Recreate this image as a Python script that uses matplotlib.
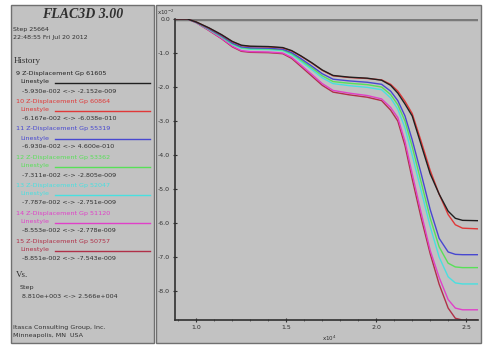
import matplotlib.pyplot as plt
from matplotlib.patches import Rectangle
from matplotlib.ticker import MultipleLocator

# step (x10^4) and z-displacement (x10^-2)
steps = [0.881, 0.95, 1.00, 1.07, 1.14, 1.20, 1.25, 1.30, 1.40, 1.48, 1.53, 1.58, 1.64, 1.70, 1.76,
         1.85, 1.95, 2.03, 2.08, 2.12, 2.16, 2.20, 2.25, 2.30, 2.35, 2.40, 2.44, 2.48, 2.566]

disp_9 = [0, 0, -0.09, -0.26, -0.46, -0.66, -0.77, -0.80, -0.81, -0.84, -0.93, -1.08, -1.28, -1.50, -1.66,
          -1.71, -1.74, -1.80, -1.95, -2.18, -2.50, -2.85, -3.70, -4.55, -5.15, -5.65, -5.86, -5.92, -5.93]
disp_10 = [0, 0, -0.09, -0.27, -0.47, -0.67, -0.78, -0.81, -0.82, -0.85, -0.94, -1.09, -1.29, -1.51, -1.67,
           -1.72, -1.75, -1.79, -1.92, -2.12, -2.42, -2.78, -3.60, -4.45, -5.15, -5.75, -6.05, -6.15, -6.17]
disp_11 = [0, 0, -0.10, -0.29, -0.50, -0.71, -0.82, -0.85, -0.86, -0.89, -0.99, -1.16, -1.38, -1.61, -1.77,
           -1.82, -1.86, -1.92, -2.12, -2.40, -2.85, -3.55, -4.55, -5.60, -6.45, -6.85, -6.92, -6.93, -6.93]
disp_12 = [0, 0, -0.10, -0.30, -0.52, -0.73, -0.84, -0.87, -0.88, -0.91, -1.02, -1.20, -1.43, -1.67, -1.84,
           -1.89, -1.93, -2.00, -2.22, -2.52, -3.00, -3.75, -4.80, -5.85, -6.70, -7.18, -7.29, -7.31, -7.31]
disp_13 = [0, 0, -0.10, -0.31, -0.53, -0.75, -0.86, -0.89, -0.90, -0.93, -1.05, -1.24, -1.48, -1.73, -1.90,
           -1.96, -2.01, -2.08, -2.32, -2.65, -3.20, -4.00, -5.05, -6.10, -7.00, -7.58, -7.76, -7.79, -7.79]
disp_14 = [0, 0, -0.11, -0.33, -0.57, -0.80, -0.93, -0.96, -0.97, -1.00, -1.13, -1.35, -1.62, -1.90, -2.10,
           -2.18, -2.25, -2.35, -2.60, -2.90, -3.60, -4.55, -5.70, -6.80, -7.60, -8.25, -8.50, -8.55, -8.55]
disp_15 = [0, 0, -0.11, -0.34, -0.58, -0.82, -0.95, -0.98, -0.99, -1.02, -1.16, -1.39, -1.67, -1.95, -2.15,
           -2.23, -2.30, -2.40, -2.68, -3.00, -3.72, -4.70, -5.85, -6.90, -7.80, -8.50, -8.80, -8.85, -8.85]

series = [disp_9, disp_10, disp_11, disp_12, disp_13, disp_14, disp_15]
names = ['9 Z-Displacement Gp 61605', '10 Z-Displacement Gp 60864', '11 Z-Displacement Gp 55319',
         '12 Z-Displacement Gp 53362', '13 Z-Displacement Gp 52047', '14 Z-Displacement Gp 51120',
         '15 Z-Displacement Gp 50757']
ranges = ['-5.930e-002 <-> -2.152e-009', '-6.167e-002 <-> -6.038e-010', '-6.930e-002 <-> 4.600e-010',
          '-7.311e-002 <-> -2.805e-009', '-7.787e-002 <-> -2.751e-009', '-8.553e-002 <-> -2.778e-009',
          '-8.851e-002 <-> -7.543e-009']
colors = ['#202020', '#e03838', '#4848d0', '#58e058', '#48e0e0', '#e040c8', '#b03048']

W, H = 483, 346
fig = plt.figure(figsize=(W / 100, H / 100), dpi=100, facecolor='white')


def fx(px):
    return px / W


def fy(py):
    return 1 - py / H


bg = '#c2c2c2'
fig.patches.append(Rectangle((fx(11), fy(343)), fx(143), 338 / H, transform=fig.transFigure,
                             facecolor=bg, edgecolor='#707070', lw=1, zorder=-5))
fig.patches.append(Rectangle((fx(156), fy(343)), fx(325), 338 / H, transform=fig.transFigure,
                             facecolor=bg, edgecolor='#707070', lw=1, zorder=-5))

# left info panel
fig.text(fx(83), fy(14), 'FLAC3D 3.00', family='Liberation Serif', weight='bold', style='italic',
         fontsize=10, color='#303030', ha='center', va='center')
fig.text(fx(13), fy(29), 'Step 25664', fontsize=4.5, color='#303030', va='center')
fig.text(fx(13), fy(38), '22:48:55 Fri Jul 20 2012', fontsize=4.5, color='#303030', va='center')
fig.text(fx(14), fy(61), 'History', family='Liberation Serif', fontsize=6.5, color='#303030', va='center')

y0 = 73
for i in range(7):
    yy = y0 + i * 28
    c = colors[i]
    fig.text(fx(16), fy(yy), names[i], fontsize=4.6, color=c, va='center')
    fig.text(fx(20), fy(yy + 9), 'Linestyle', fontsize=4.6, color=c, va='center')
    fig.add_artist(plt.Line2D([fx(55), fx(150)], [fy(yy + 10), fy(yy + 10)], color=c, lw=1,
                              transform=fig.transFigure))
    fig.text(fx(22), fy(yy + 18), ranges[i], fontsize=4.6, color='#303030', va='center')

fig.text(fx(16), fy(275), 'Vs.', family='Liberation Serif', fontsize=6.5, color='#303030', va='center')
fig.text(fx(20), fy(287), 'Step', fontsize=4.6, color='#303030', va='center')
fig.text(fx(22), fy(296), '8.810e+003 <-> 2.566e+004', fontsize=4.6, color='#303030', va='center')
fig.text(fx(13), fy(327), 'Itasca Consulting Group, Inc.', fontsize=4.6, color='#303030', va='center')
fig.text(fx(13), fy(336), 'Minneapolis, MN  USA', fontsize=4.6, color='#303030', va='center')

# plot area
ax = fig.add_axes([fx(175), fy(320), fx(478) - fx(175), fy(19) - fy(320)])
ax.set_facecolor('none')
ax.axhline(0, color='#7a7a7a', lw=2.5, zorder=1)
for i in range(6, -1, -1):
    ax.plot(steps, series[i], color=colors[i], lw=1.0, zorder=2 + (6 - i))

ax.set_xlim(0.881, 2.566)
ax.set_ylim(-8.85, 0)
ax.xaxis.set_major_locator(MultipleLocator(0.5))
ax.xaxis.set_minor_locator(MultipleLocator(0.1))
ax.yaxis.set_major_locator(MultipleLocator(1.0))
ax.xaxis.set_major_formatter(plt.FuncFormatter(lambda v, p: f'{v:.1f}'))
ax.yaxis.set_major_formatter(plt.FuncFormatter(lambda v, p: f'{v:.1f}'))
for s in ['top', 'right']:
    ax.spines[s].set_visible(False)
for s in ['left', 'bottom']:
    ax.spines[s].set_color('#303030')
    ax.spines[s].set_linewidth(1.2)
ax.tick_params(which='major', direction='inout', length=3, width=0.8, colors='#303030',
               labelsize=4.5, pad=2)
ax.tick_params(which='minor', direction='inout', length=2, width=0.6, colors='#505050')

fig.text(fx(157), fy(12), r'x10$^{-2}$', fontsize=4, color='#303030', va='center')
fig.text(fx(322), fy(338), r'x10$^{4}$', fontsize=4, color='#303030', va='center')

fig.savefig('out.png', dpi=100, facecolor='white')
